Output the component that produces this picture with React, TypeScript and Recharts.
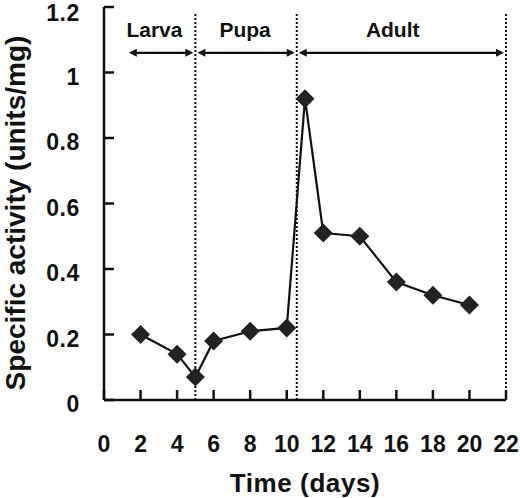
import { LineChart, Line, XAxis, YAxis, ReferenceLine, ReferenceDot } from "recharts";

// activity measured over development
const days = [2, 4, 5, 6, 8, 10, 11, 12, 14, 16, 18, 20];
const activity = [0.2, 0.14, 0.07, 0.18, 0.21, 0.22, 0.92, 0.51, 0.5, 0.36, 0.32, 0.29];

const xTicks = [0, 2, 4, 6, 8, 10, 12, 14, 16, 18, 20, 22];
const yTicks = [0, 0.2, 0.4, 0.6, 0.8, 1, 1.2];

// developmental stages
const stageNames = ["Larva", "Pupa", "Adult"];
const stageStart = [1.25, 5, 10.55];
const stageEnd = [5, 10.55, 22];
const stageLabelDay = [2.76, 7.72, 15.8];
const boundaryDays = [5, 10.55, 22];

const FONT = "'Liberation Sans', Arial, sans-serif";
const INK = "#111";

const data = days.map((d, i) => ({ day: d, value: activity[i] }));

const YTick = (props: any) => {
  const { x, y, payload } = props;
  // keep the top label inside the picture
  const ty = Math.max(y + 12, 21);
  return (
    <g>
      <line x1={x} x2={x + 10} y1={y} y2={y} stroke={INK} strokeWidth={2.5} />
      <text x={x - 24} y={ty} textAnchor="end" fontFamily={FONT} fontWeight="bold" fontSize={23} letterSpacing={0.6} fill={INK}>
        {String(payload.value)}
      </text>
    </g>
  );
};

const XTick = (props: any) => {
  const { x, y, payload } = props;
  return (
    <g>
      <line x1={x} x2={x} y1={y} y2={y - 10} stroke={INK} strokeWidth={2.5} />
      <text x={x} y={y + 52} textAnchor="middle" fontFamily={FONT} fontWeight="bold" fontSize={23} fill={INK}>
        {String(payload.value)}
      </text>
    </g>
  );
};

const Diamond = (props: any) => {
  const { cx, cy, index } = props;
  const r = 9.5;
  return (
    <polygon
      key={`d-${index}`}
      points={`${cx},${cy - r} ${cx + r},${cy} ${cx},${cy + r} ${cx - r},${cy}`}
      fill="#222"
    />
  );
};

const Arrow = (props: any) => {
  const { x1, y1, x2 } = props;
  const a = x1 + 2;
  const b = x2 - 2;
  const y = y1;
  return (
    <g>
      <line x1={a + 4} x2={b - 4} y1={y} y2={y} stroke={INK} strokeWidth={2.3} />
      <polygon points={`${a},${y} ${a + 8},${y - 4} ${a + 8},${y + 4}`} fill={INK} />
      <polygon points={`${b},${y} ${b - 8},${y - 4} ${b - 8},${y + 4}`} fill={INK} />
    </g>
  );
};

const StageLabel = (name: string) => (props: any) => (
  <text x={props.cx} y={props.cy + 7} textAnchor="middle" fontFamily={FONT} fontWeight="bold" fontSize={21} fill={INK}>
    {name}
  </text>
);

const XTitle = (props: any) => {
  const vb = props.viewBox;
  return (
    <text x={vb.x + vb.width / 2} y={vb.y + 92} textAnchor="middle" fontFamily={FONT} fontWeight="bold" fontSize={26} letterSpacing={0.6} fill={INK}>
      Time (days)
    </text>
  );
};

const YTitle = () => {
  const cx = 25;
  const cy = 213;
  return (
    <text x={cx} y={cy} transform={`rotate(-90, ${cx}, ${cy})`} textAnchor="middle" fontFamily={FONT} fontWeight="bold" fontSize={28} fill={INK}>
      Specific activity (units/mg)
    </text>
  );
};

export default function App() {
  return (
    <div style={{ position: "absolute", left: 0, top: 0, background: "#fff" }}>
      <LineChart width={520} height={498} data={data} margin={{ top: 7, right: 14, bottom: 0, left: 0 }}>
        <XAxis
          dataKey="day"
          type="number"
          domain={[0, 22]}
          ticks={xTicks}
          interval={0}
          height={98}
          tickSize={0}
          tickMargin={0}
          tickLine={false}
          axisLine={{ stroke: INK, strokeWidth: 2.5 }}
          tick={<XTick />}
          label={XTitle}
        />
        <YAxis
          type="number"
          domain={[0, 1.2]}
          ticks={yTicks}
          interval={0}
          width={104}
          tickSize={0}
          tickMargin={0}
          tickLine={false}
          axisLine={{ stroke: INK, strokeWidth: 2.5 }}
          tick={<YTick />}
          label={YTitle}
        />
        {boundaryDays.map((d) => (
          <ReferenceLine
            key={`b-${d}`}
            segment={[{ x: d, y: 0 }, { x: d, y: 1.18 }]}
            stroke={INK}
            strokeWidth={2}
            strokeDasharray="2 2"
          />
        ))}
        {stageNames.map((s, i) => (
          <ReferenceLine
            key={`a-${s}`}
            segment={[{ x: stageStart[i], y: 1.06 }, { x: stageEnd[i], y: 1.06 }]}
            shape={Arrow}
          />
        ))}
        {stageNames.map((s, i) => (
          <ReferenceDot key={`l-${s}`} x={stageLabelDay[i]} y={1.13} r={0} shape={StageLabel(s)} />
        ))}
        <Line
          dataKey="value"
          stroke={INK}
          strokeWidth={2.2}
          dot={Diamond}
          activeDot={false}
          isAnimationActive={false}
        />
      </LineChart>
    </div>
  );
}
